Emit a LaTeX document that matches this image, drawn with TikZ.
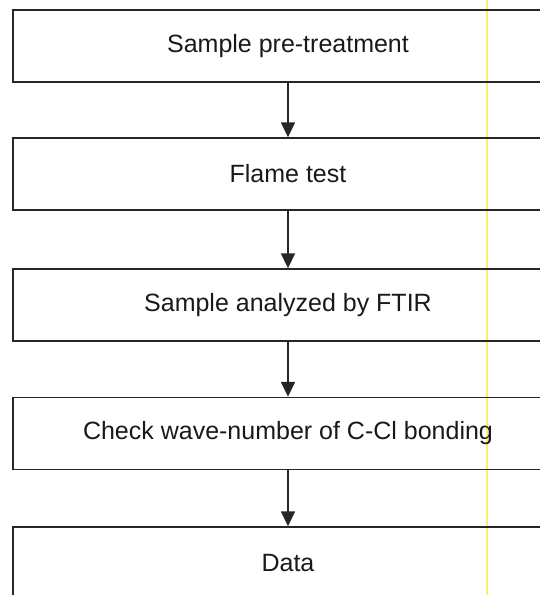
\documentclass[tikz,border=0pt]{standalone}
\usepackage{fontspec}
\setmainfont{Liberation Sans}
\usetikzlibrary{arrows.meta}
\definecolor{scanyellow}{RGB}{250,240,110}
\begin{document}
\begin{tikzpicture}[x=1pt,y=-1pt,
  stepbox/.style={draw=black!85, line width=1.4pt, rectangle, minimum width=550pt, minimum height=72pt, inner sep=0pt, font=\fontsize{25}{28}\selectfont, text=black!90},
  flow/.style={draw=black!85, line width=1.8pt, -{Triangle[width=14pt,length=15pt]}}]
\useasboundingbox (0,0) rectangle (540,595);
\begin{scope}
\clip (0,0) rectangle (540,595);
\coordinate (yt) at (487,0);
\coordinate (yb) at (487,595);
\draw[scanyellow, line width=1.2pt] (yt) -- (yb);
\node[stepbox] (s1) at (288,46) {Sample pre-treatment};
\node[stepbox] (s2) at (288,174) {Flame test};
\node[stepbox] (s3) at (288,305) {Sample analyzed by FTIR};
\node[stepbox] (s4) at (288,433.5) {Check wave-number of C-Cl bonding};
\node[stepbox] (s5) at (288,563) {Data};
\draw[flow] (s1) -- (s2);
\draw[flow] (s2) -- (s3);
\draw[flow] (s3) -- (s4);
\draw[flow] (s4) -- (s5);
\end{scope}
\end{tikzpicture}
\end{document}
